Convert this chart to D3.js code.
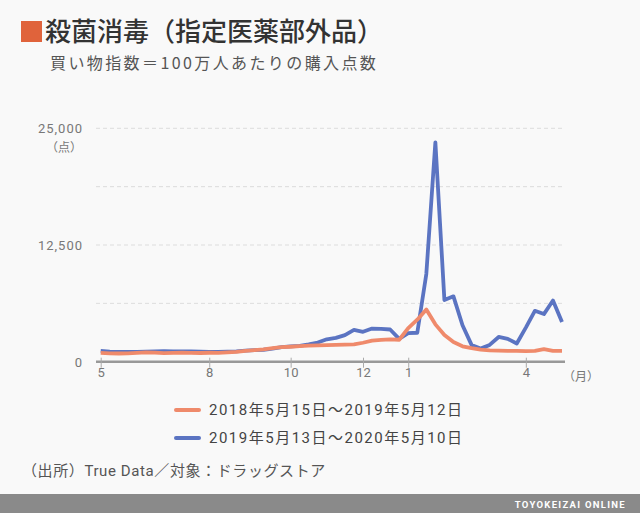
<!DOCTYPE html>
<html>
<head>
<meta charset="utf-8">
<script src="https://cdn.jsdelivr.net/npm/d3@7"></script>
<style>
  body { margin: 0; background: #f9f9f9; }
  svg { display: block; font-family: Roboto, "Noto Sans CJK JP", sans-serif; }
</style>
</head>
<body>
<svg width="640" height="513"></svg>
<script>
// weekly purchase index (points per 1M people), 52 weeks each
const weeks = d3.range(52);
const prevYear = [950, 900, 880, 900, 950, 1000, 980, 920, 950, 970, 940, 930, 960, 950, 1000, 1050,
  1150, 1250, 1330, 1450, 1560, 1600, 1660, 1720, 1750, 1780, 1800, 1830, 1850, 2030, 2250, 2330,
  2390, 2350, 3600, 4500, 5600, 4000, 2850, 2100, 1650, 1450, 1300, 1220, 1180, 1150, 1150, 1140,
  1150, 1350, 1150, 1170];
const thisYear = [1150, 1080, 1050, 1050, 1060, 1080, 1100, 1120, 1100, 1090, 1100, 1080, 1060, 1050, 1080, 1100,
  1180, 1250, 1280, 1400, 1550, 1650, 1700, 1850, 2050, 2400, 2550, 2850, 3400, 3200, 3550, 3520,
  3450, 2450, 3050, 3100, 9400, 23500, 6600, 7000, 3900, 1800, 1400, 1800, 2650, 2450, 1950, 3650,
  5450, 5100, 6550, 4250];
const monthTicks = [0, 12, 21, 29, 34, 47];
const monthLabels = ["5", "8", "10", "12", "1", "4"];
const yTicks = [0, 12500, 25000];
const yGrid = [6250, 12500, 18750, 25000];
const legendLabels = ["2018年5月15日～2019年5月12日", "2019年5月13日～2020年5月10日"];

const svg = d3.select("svg");
const orange = "#ef8a6b";
const blue = "#5b74c2";

const x = d3.scaleLinear().domain([0, 51]).range([100.7, 562]);
const y = d3.scaleLinear().domain([0, 25000]).range([361.7, 128.3]);

// title
svg.append("rect").attr("x", 21).attr("y", 21).attr("width", 21).attr("height", 21).attr("fill", "#e0633b");
svg.append("text").attr("x", 45).attr("y", 41).attr("font-size", 26).attr("font-weight", 500)
  .attr("fill", "#333").attr("font-family", "'Noto Sans CJK JP'")
  .text("殺菌消毒（指定医薬部外品）");
svg.append("text").attr("x", 50).attr("y", 69).attr("font-size", 16).attr("letter-spacing", 2.4)
  .attr("fill", "#555").attr("font-family", "'Noto Sans CJK JP'")
  .text("買い物指数＝100万人あたりの購入点数");

// grid
svg.append("g").selectAll("line").data(yGrid).join("line")
  .attr("x1", 96).attr("x2", 565)
  .attr("y1", d => y(d)).attr("y2", d => y(d))
  .attr("stroke", "#ddd").attr("stroke-dasharray", "4,3");

// y labels
svg.append("g").selectAll("text").data(yTicks).join("text")
  .attr("x", 83).attr("y", d => y(d) + 5)
  .attr("text-anchor", "end").attr("font-size", 13).attr("letter-spacing", 1)
  .attr("fill", "#777").text(d => d3.format(",")(d));
svg.append("text").attr("x", 82).attr("y", 152).attr("text-anchor", "end")
  .attr("font-size", 12).attr("fill", "#777").text("（点）");

// x axis
const xAxis = d3.axisBottom(x).tickValues(monthTicks).tickFormat((d, i) => monthLabels[i])
  .tickSize(6).tickSizeOuter(0);
const gx = svg.append("g").attr("transform", `translate(0,${y(0)})`).call(xAxis);
gx.select(".domain").attr("d", "M96,0H565").attr("stroke", "#999").attr("stroke-width", 2.5);
gx.selectAll(".tick line").attr("stroke", "#aaa").attr("y1", -4);
gx.selectAll(".tick text").attr("font-size", 13).attr("fill", "#777")
  .attr("font-family", "Roboto").attr("dy", "0.5em");
svg.append("text").attr("x", 581).attr("y", 381).attr("text-anchor", "middle")
  .attr("font-size", 12).attr("fill", "#777").text("（月）");

// lines
const line = vals => d3.line().x(d => x(d)).y(d => y(vals[d]))(weeks);
svg.append("path").attr("d", line(thisYear)).attr("fill", "none")
  .attr("stroke", blue).attr("stroke-width", 3.8).attr("stroke-linejoin", "round");
svg.append("path").attr("d", line(prevYear)).attr("fill", "none")
  .attr("stroke", orange).attr("stroke-width", 3.8).attr("stroke-linejoin", "round");

// legend
const leg = svg.append("g").selectAll("g").data(legendLabels).join("g")
  .attr("transform", (d, i) => `translate(0,${410 + i * 28})`);
leg.append("line").attr("x1", 176).attr("x2", 199)
  .attr("stroke", (d, i) => i ? blue : orange).attr("stroke-width", 4).attr("stroke-linecap", "round");
leg.append("text").attr("x", 209).attr("y", 5).attr("font-size", 15).attr("letter-spacing", 1.5)
  .attr("fill", "#444").text(d => d);

// source
svg.append("text").attr("x", 22).attr("y", 476).attr("font-size", 15).attr("letter-spacing", 0.6)
  .attr("fill", "#555")
  .text("（出所）True Data／対象：ドラッグストア");

// footer
svg.append("rect").attr("x", 0).attr("y", 494).attr("width", 640).attr("height", 19).attr("fill", "#8a8a8a");
svg.append("text").attr("x", 626).attr("y", 508).attr("text-anchor", "end")
  .attr("font-size", 9.5).attr("font-weight", 700).attr("letter-spacing", 1.3)
  .attr("fill", "#fff").text("TOYOKEIZAI ONLINE");
</script>
</body>
</html>
